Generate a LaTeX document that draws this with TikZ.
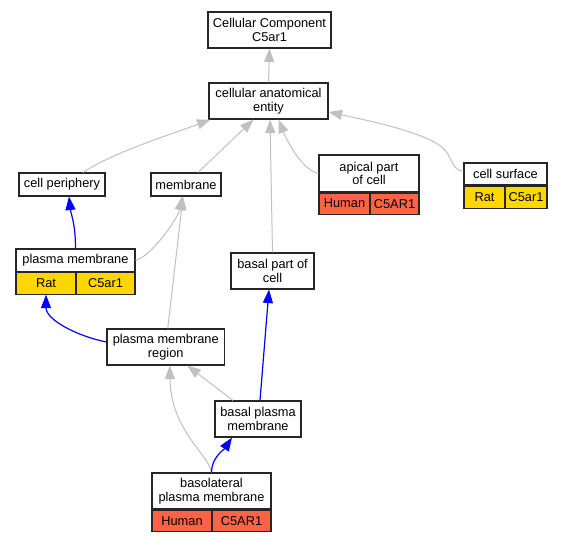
\documentclass[tikz,border=0pt]{standalone}
\usepackage{fontspec}
\setmainfont{Liberation Sans}
\usetikzlibrary{arrows.meta,positioning}
\definecolor{humancell}{HTML}{FF6347}
\definecolor{ratcell}{HTML}{FFD700}
\definecolor{edgegray}{HTML}{C0C0C0}
\begin{document}
\begin{tikzpicture}[x=1pt,y=-1pt,
  term/.style={draw=black!85,line width=1.1pt,fill=white,align=center,inner sep=0pt,
    font=\fontsize{12.8}{13.5}\selectfont},
  cell/.style={term},
  isa/.style={draw=edgegray,line width=1pt,-{Triangle[length=13.5pt,width=10pt]}},
  partof/.style={draw=blue,line width=1.2pt,-{Triangle[length=13.5pt,width=10pt]}}]
\useasboundingbox (0,0) rectangle (563,541);
% terms
\node[term,minimum width=123pt,minimum height=36pt] (cc) at (269.5,30) {Cellular Component\\C5ar1};
\node[term,minimum width=119pt,minimum height=36pt] (cae) at (268.5,101) {cellular anatomical\\entity};
\node[term,minimum width=86pt,minimum height=23pt] (cp) at (62,184.5) {cell periphery};
\node[term,minimum width=70pt,minimum height=23pt] (mem) at (186,184.5) {membrane};
\node[term,minimum width=100pt,minimum height=37pt] (apical) at (369,173.5) {apical part\\of cell};
\node[cell,fill=humancell,minimum width=51pt,minimum height=21pt,anchor=north west] (apical-sp) at (apical.south west) {Human};
\node[cell,fill=humancell,minimum width=49pt,minimum height=21pt,anchor=north east] (apical-gene) at (apical.south east) {C5AR1};
\node[term,minimum width=83pt,minimum height=22pt] (cs) at (505.5,174) {cell surface};
\node[cell,fill=ratcell,minimum width=41pt,minimum height=22pt,anchor=north west] (cs-sp) at (cs.south west) {Rat};
\node[cell,fill=ratcell,minimum width=42pt,minimum height=22pt,anchor=north east] (cs-gene) at (cs.south east) {C5ar1};
\node[term,minimum width=119pt,minimum height=22.7pt] (pm) at (75.5,260.3) {plasma membrane};
\node[cell,fill=ratcell,minimum width=60pt,minimum height=21.3pt,anchor=north west] (pm-sp) at (pm.south west) {Rat};
\node[cell,fill=ratcell,minimum width=59pt,minimum height=21.3pt,anchor=north east] (pm-gene) at (pm.south east) {C5ar1};
\node[term,minimum width=83pt,minimum height=36pt] (bpc) at (272.5,271) {basal part of\\cell};
\node[term,minimum width=117.5pt,minimum height=36pt] (pmr) at (165.75,347) {plasma membrane\\region};
\node[term,minimum width=86pt,minimum height=36pt] (bpm) at (258,419) {basal plasma\\membrane};
\node[term,minimum width=119pt,minimum height=36pt] (bl) at (211.5,491) {basolateral\\plasma membrane};
\node[cell,fill=humancell,minimum width=60pt,minimum height=21.7pt,anchor=north west] (bl-sp) at (bl.south west) {Human};
\node[cell,fill=humancell,minimum width=59pt,minimum height=21.7pt,anchor=north east] (bl-gene) at (bl.south east) {C5AR1};
% is_a
\draw[isa] (cae.north) -- (cc.south);
\draw[isa] ([xshift=21pt]cp.north) .. controls +(30,-20) and +(-40,15) .. ([xshift=2pt]cae.south west);
\draw[isa] ([xshift=12pt]mem.north) -- ([xshift=-15pt]cae.south);
\draw[isa] (bpc.north) -- ([xshift=1.5pt]cae.south);
\draw[isa] (apical.west) .. controls +(-15,-3) and +(10,25) .. ([xshift=10pt]cae.south);
\draw[isa] ([yshift=3pt]cs.west) .. controls +(-11,0) and +(7,8) .. (445,150)
  .. controls +(-15,-17) and +(37,8) .. ([yshift=-11pt]cae.east);
\draw[isa] (pm.east) .. controls +(15,-3) and +(-4,22) .. ([xshift=-4pt]mem.south);
\draw[isa] ([xshift=2pt]pmr.north) -- ([xshift=-3pt]mem.south);
\draw[isa] ([xshift=-25pt]bpm.north) -- ([xshift=21.5pt]pmr.south);
\draw[isa] (bl.north) .. controls +(-2.5,-18) and +(1,65) .. ([xshift=4pt]pmr.south);
% part_of
\draw[partof] (pm.north) .. controls +(0,-25) and +(2,18) .. ([xshift=7pt]cp.south);
\draw[partof] ([yshift=5pt]pmr.west) .. controls +(-30,-6) and +(0,25) .. (pm-sp.south);
\draw[partof] ([xshift=2pt]bpm.north) -- ([xshift=-3.5pt]bpc.south);
\draw[partof] (bl.north) .. controls +(0,-15) and +(-8,12) .. ([xshift=-26pt]bpm.south);
\end{tikzpicture}
\end{document}
